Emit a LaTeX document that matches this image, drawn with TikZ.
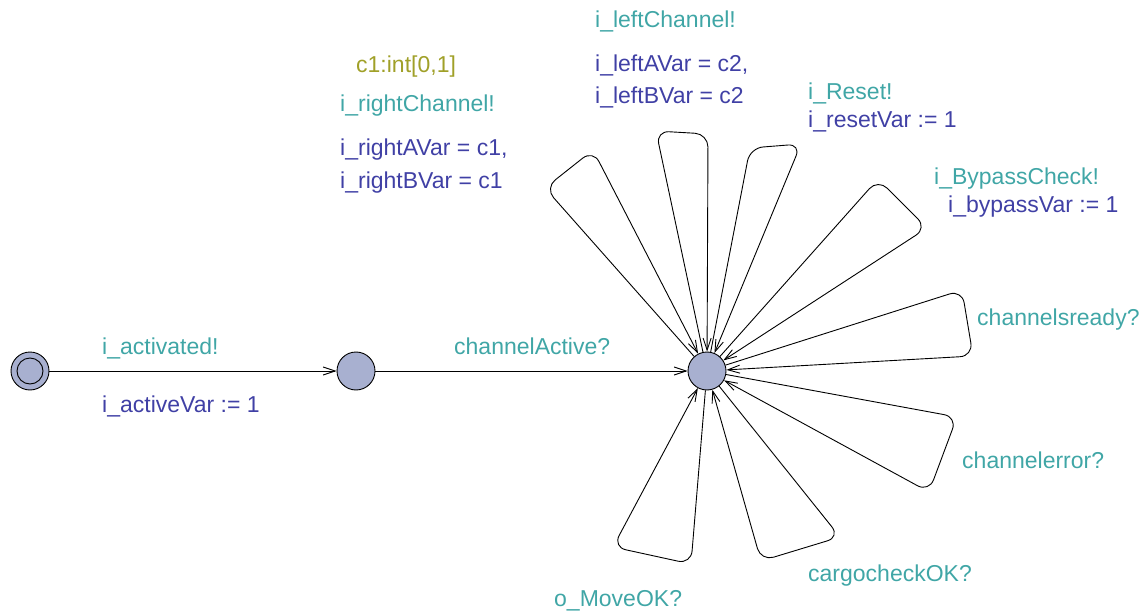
\documentclass[tikz,border=0pt]{standalone}
\usepackage{fontspec}
\setmainfont{Liberation Sans}
\usetikzlibrary{arrows.meta}
\definecolor{syncc}{RGB}{64,166,166}
\definecolor{assignc}{RGB}{64,64,165}
\definecolor{selectc}{RGB}{160,160,40}
\definecolor{locfill}{RGB}{168,176,208}
\tikzset{
  loc/.style={circle,draw,line width=0.9pt,fill=locfill,minimum size=38pt,inner sep=0pt},
  edge/.style={line width=0.9pt,-{Straight Barb[length=12pt,width=8pt,line width=0.9pt]}},
  loopedge/.style={edge,rounded corners=13pt},
  lbl/.style={anchor=base west,inner sep=0pt,font=\fontsize{23}{27}\selectfont},
  sync/.style={lbl,text=syncc},
  assign/.style={lbl,text=assignc},
  sel/.style={lbl,text=selectc},
}
\begin{document}
\begin{tikzpicture}[x=1pt,y=-1pt]
\useasboundingbox (0,0) rectangle (1148,612);

% locations
\node[loc] (init) at (30,371) {};
\draw[line width=0.9pt] (init.center) circle (13pt);
\node[loc] (mid) at (356,371) {};
\node[loc] (hub) at (707,371) {};

% straight edges
\draw[edge] (init) -- (mid);
\draw[edge] (mid) -- (hub);

% self loops on the hub
\coordinate (a1) at (545,188); \coordinate (a2) at (593,150);
\coordinate (b1) at (656,131); \coordinate (b2) at (708,134);
\coordinate (c1) at (750,148); \coordinate (c2) at (801,144);
\coordinate (d1) at (878,179); \coordinate (d2) at (927,228);
\coordinate (e1) at (962,290); \coordinate (e2) at (973,356);
\coordinate (f1) at (957,417); \coordinate (f2) at (929,492);
\coordinate (g1) at (840,537); \coordinate (g2) at (761,561);
\coordinate (h1) at (691,564); \coordinate (h2) at (613,547);
\foreach \p/\q in {a1/a2,b1/b2,c1/c2,d1/d2,e1/e2,f1/f2,g1/g2,h1/h2}
  \draw[loopedge] (hub) -- (\p) -- (\q) -- (hub);

% labels
\node[sync] (l1) at (102,354) {i\_activated!};
\node[assign] (l2) at (102,412) {i\_activeVar := 1};
\node[sync] (l3) at (454,354) {channelActive?};

\node[sel] (l4) at (356,73) {c1:int[0,1]};
\node[sync] (l5) at (340,112) {i\_rightChannel!};
\node[assign] (l6) at (340,156) {i\_rightAVar = c1,};
\node[assign] (l7) at (340,189) {i\_rightBVar = c1};

\node[sync] (l8) at (595,28) {i\_leftChannel!};
\node[assign] (l9) at (595,72) {i\_leftAVar = c2,};
\node[assign] (l10) at (595,104) {i\_leftBVar = c2};

\node[sync] (l11) at (808,100) {i\_Reset!};
\node[assign] (l12) at (808,128) {i\_resetVar := 1};

\node[sync] (l13) at (934,185) {i\_BypassCheck!};
\node[assign] (l14) at (948,213) {i\_bypassVar := 1};

\node[sync] (l15) at (977,325) {channelsready?};
\node[sync] (l16) at (962,468) {channelerror?};
\node[sync] (l17) at (808,581) {cargocheckOK?};
\node[sync] (l18) at (554,606) {o\_MoveOK?};
\end{tikzpicture}
\end{document}
